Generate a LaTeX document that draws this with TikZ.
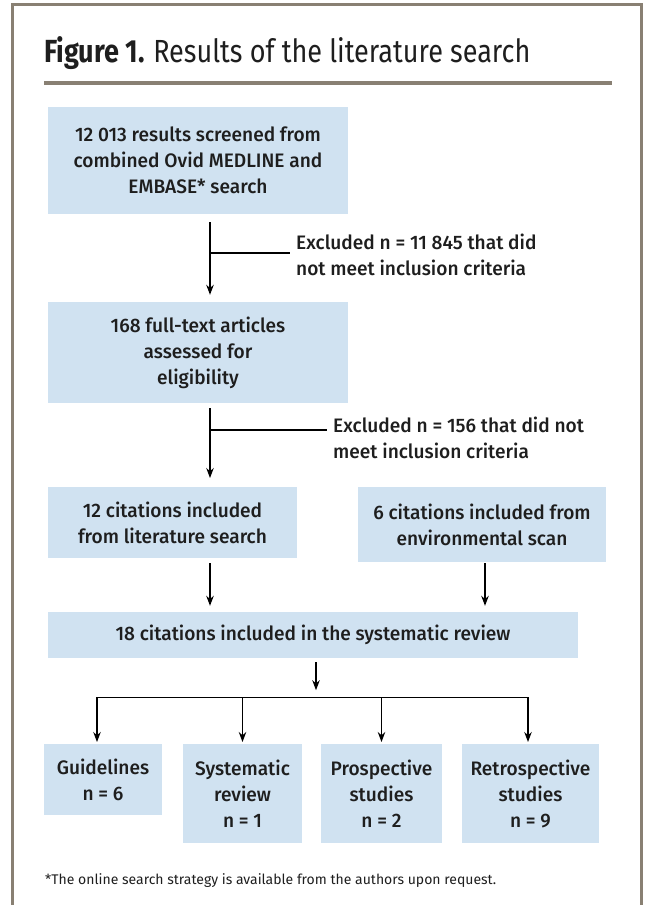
\documentclass[tikz,border=0pt]{standalone}
\usepackage{fontspec}
\setmainfont{Fira Sans}
\newfontfamily\boxfont{Fira Sans Medium}[FakeStretch=0.98]
\newfontfamily\titlefont{Fira Sans}[FakeStretch=0.845]
\usetikzlibrary{arrows.meta}
\definecolor{boxblue}{RGB}{208,226,241}
\definecolor{framegray}{RGB}{137,128,115}
\definecolor{inkdark}{RGB}{30,30,30}

\begin{document}
\begin{tikzpicture}[x=1pt,y=-1pt,
    box/.style={fill=boxblue, text=inkdark, inner sep=0pt, align=center,
      font=\boxfont\fontsize{19.5}{26}\selectfont},
    note/.style={anchor=west, align=left, inner xsep=6pt, inner ysep=0pt,
      text=inkdark, font=\boxfont\fontsize{19.5}{26}\selectfont},
    link/.style={line width=1.1pt},
    arr/.style={link, -{Stealth[length=10pt,width=7.5pt]}, shorten <=5pt, shorten >=6pt}]
    \useasboundingbox (0,0) rectangle (650,905);
    % frame and title
    \draw [framegray, line width=3pt] (12,905) -- (12,4) -- (641,4) -- (641,905);
    \node [anchor=base west, inner sep=0pt, text=inkdark] (title) at (44,62)
        {\titlefont\fontsize{32}{36}\selectfont\bfseries Figure 1. \mdseries Results of the literature search};
    \draw [framegray, line width=4pt] (44,83) -- (612,83);

    % main column
    \node [box, minimum width=300pt, minimum height=107pt] (search) at (198,160.5)
        {12 013 results screened from\\combined Ovid MEDLINE and\\EMBASE* search};
    \node [box, minimum width=300pt, minimum height=101pt] (fulltext) at (198,352.5)
        {168 full-text articles\\assessed for\\eligibility};
    \node [box, anchor=north, minimum width=249pt, minimum height=71pt] (litcite) at (172.5,487)
        {12 citations included\\from literature search};
    \node [box, anchor=north, minimum width=248pt, minimum height=75pt] (envscan) at (482,487)
        {6 citations included from\\environmental scan};
    \node [box, minimum width=530pt, minimum height=46pt] (review) at (313,635)
        {18 citations included in the systematic review};

    % bottom row
    \node [box, anchor=north, minimum width=118pt, minimum height=71pt] (guide) at (103,744)
        {Guidelines\\n = 6};
    \node [box, anchor=north, minimum width=119pt, minimum height=99pt] (sysrev) at (242.5,744)
        {Systematic\\review\\n = 1};
    \node [box, anchor=north, minimum width=121pt, minimum height=99pt] (prosp) at (381.5,744)
        {Prospective\\studies\\n = 2};
    \node [box, anchor=north, minimum width=137pt, minimum height=99pt] (retro) at (530.5,744)
        {Retrospective\\studies\\n = 9};

    % exclusions
    \node [note] (excl1) at (290,255) {Excluded n = 11 845 that did\\not meet inclusion criteria};
    \node [note] (excl2) at (327,437.5) {Excluded n = 156 that did not\\meet inclusion criteria};

    \coordinate (spine) at (210,0);
    \coordinate (cut1) at ([yshift=2pt]excl1.west);
    \coordinate (cut2) at ([yshift=7.5pt]excl2.west);
    \coordinate (scanout) at ([xshift=3pt]envscan.south);
    \draw [arr, shorten <=8pt, shorten >=7pt] (search.south -| spine) -- (fulltext.north -| spine);
    \draw [link] (cut1 -| spine) -- (cut1);
    \draw [arr, shorten >=9pt] (fulltext.south -| spine) -- (litcite.north -| spine);
    \draw [link] (cut2 -| spine) -- (cut2);
    \draw [arr] (litcite.south -| spine) -- (review.north -| spine);
    \draw [arr, shorten <=1pt] (scanout) -- (review.north -| scanout);

    % split into study types
    \coordinate (hub) at ([xshift=3pt,yshift=-39pt]review.south);
    \draw [arr, shorten <=4pt, shorten >=7pt] ([xshift=3pt]review.south) -- (hub);
    \draw [arr, shorten <=0pt, shorten >=2pt] (hub) -| ([xshift=-6pt]guide.north);
    \draw [arr, shorten <=0pt, shorten >=2pt] (hub) -| (sysrev.north);
    \draw [arr, shorten <=0pt, shorten >=2pt] (hub) -| (prosp.north);
    \draw [arr, shorten <=0pt, shorten >=2pt] (hub) -| ([xshift=-2.5pt]retro.north);

    % footnote
    \node [anchor=west, inner sep=0pt, text=inkdark, font=\fontsize{14}{16}\selectfont] (foot) at (45,881)
        {*The online search strategy is available from the authors upon request.};
\end{tikzpicture}
\end{document}
